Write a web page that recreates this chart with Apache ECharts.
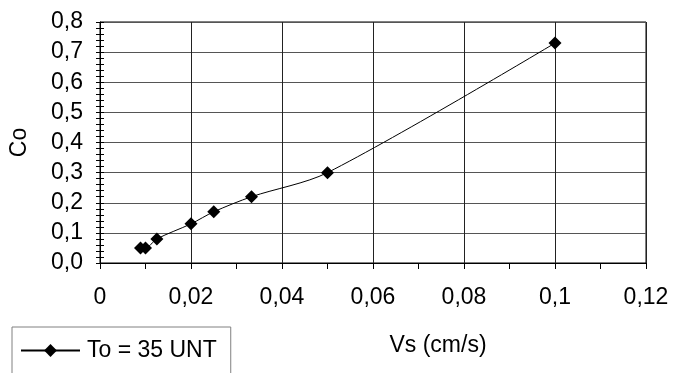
<!DOCTYPE html>
<html><head><meta charset="utf-8">
<script src="https://cdn.jsdelivr.net/npm/echarts@6/dist/echarts.min.js"></script>
<style>html,body{margin:0;padding:0;background:#fff}#c{width:673px;height:373px}</style>
</head><body><div id="c"></div>
<script>
const xValues = [0.0089, 0.0100, 0.0125, 0.0200, 0.0250, 0.0333, 0.0500, 0.1000];
const coValues = [0.05, 0.05, 0.08, 0.13, 0.17, 0.22, 0.30, 0.73];
const seriesName = 'To = 35 UNT';
const xTitle = 'Vs (cm/s)';
const yTitle = 'Co';

const comma = v => String(v).replace('.', ',');
const font = 'Liberation Sans, Arial, sans-serif';
const FS = 23;
const chart = echarts.init(document.getElementById('c'), null, {renderer: 'canvas'});
chart.setOption({
  animation: false,
  backgroundColor: '#fff',
  textStyle: {fontFamily: font},
  grid: {left: 97, right: 27, top: 22, bottom: 110, show: true, borderColor: '#000', borderWidth: 1},
  legend: {
    left: 12, top: 327, orient: 'horizontal',
    borderColor: '#808080', borderWidth: 1, padding: [12, 14, 20, 8],
    itemWidth: 59, itemHeight: 16, itemGap: 5,
    lineStyle: {width: 2},
    textStyle: {fontSize: FS, color: '#000', fontFamily: font, padding: [0, 0, 0, 2]},
    data: [seriesName]
  },
  xAxis: {
    type: 'value', min: 0, max: 0.12, interval: 0.02,
    name: xTitle, nameLocation: 'middle', nameGap: 71,
    nameTextStyle: {fontSize: FS, color: '#000', fontFamily: font, padding: [0, 0, 0, 130]},
    axisLine: {show: true, onZero: false, lineStyle: {color: '#000'}},
    axisTick: {show: true, length: 6, lineStyle: {color: '#000'}},
    minorTick: {show: true, splitNumber: 2, length: 6, lineStyle: {color: '#000'}},
    axisLabel: {fontSize: FS, color: '#000', margin: 23, fontFamily: font,
      formatter: v => comma(+v.toFixed(2))},
    splitLine: {show: true, lineStyle: {color: '#222', width: 1}}
  },
  yAxis: [{
    type: 'value', min: 0, max: 0.8, interval: 0.1,
    name: yTitle, nameLocation: 'middle', nameGap: 69, nameRotate: 90,
    nameTextStyle: {fontSize: FS, color: '#000', fontFamily: font},
    axisLine: {show: true, lineStyle: {color: '#000'}},
    axisTick: {show: true, length: 4, lineStyle: {color: '#000'}},
    minorTick: {show: true, splitNumber: 5, length: 4, lineStyle: {color: '#000'}},
    axisLabel: {fontSize: FS, color: '#000', margin: 17, fontFamily: font,
      formatter: v => comma(v.toFixed(1))},
    splitLine: {show: true, lineStyle: {color: '#555', width: 1}}
  }, {
    type: 'value', min: 0, max: 0.8, interval: 0.1, position: 'left', offset: 0,
    axisLine: {show: false},
    axisTick: {show: true, inside: true, length: 4, lineStyle: {color: '#000'}},
    minorTick: {show: true, splitNumber: 5, length: 4, lineStyle: {color: '#000'}},
    axisLabel: {show: false},
    splitLine: {show: false}
  }],
  series: [{
    name: seriesName, type: 'line', smooth: 0.3,
    data: xValues.map((x, i) => [x, coValues[i]]),
    symbol: 'diamond', symbolSize: 13,
    lineStyle: {color: '#000', width: 1},
    itemStyle: {color: '#000'}
  }]
});
</script></body></html>
